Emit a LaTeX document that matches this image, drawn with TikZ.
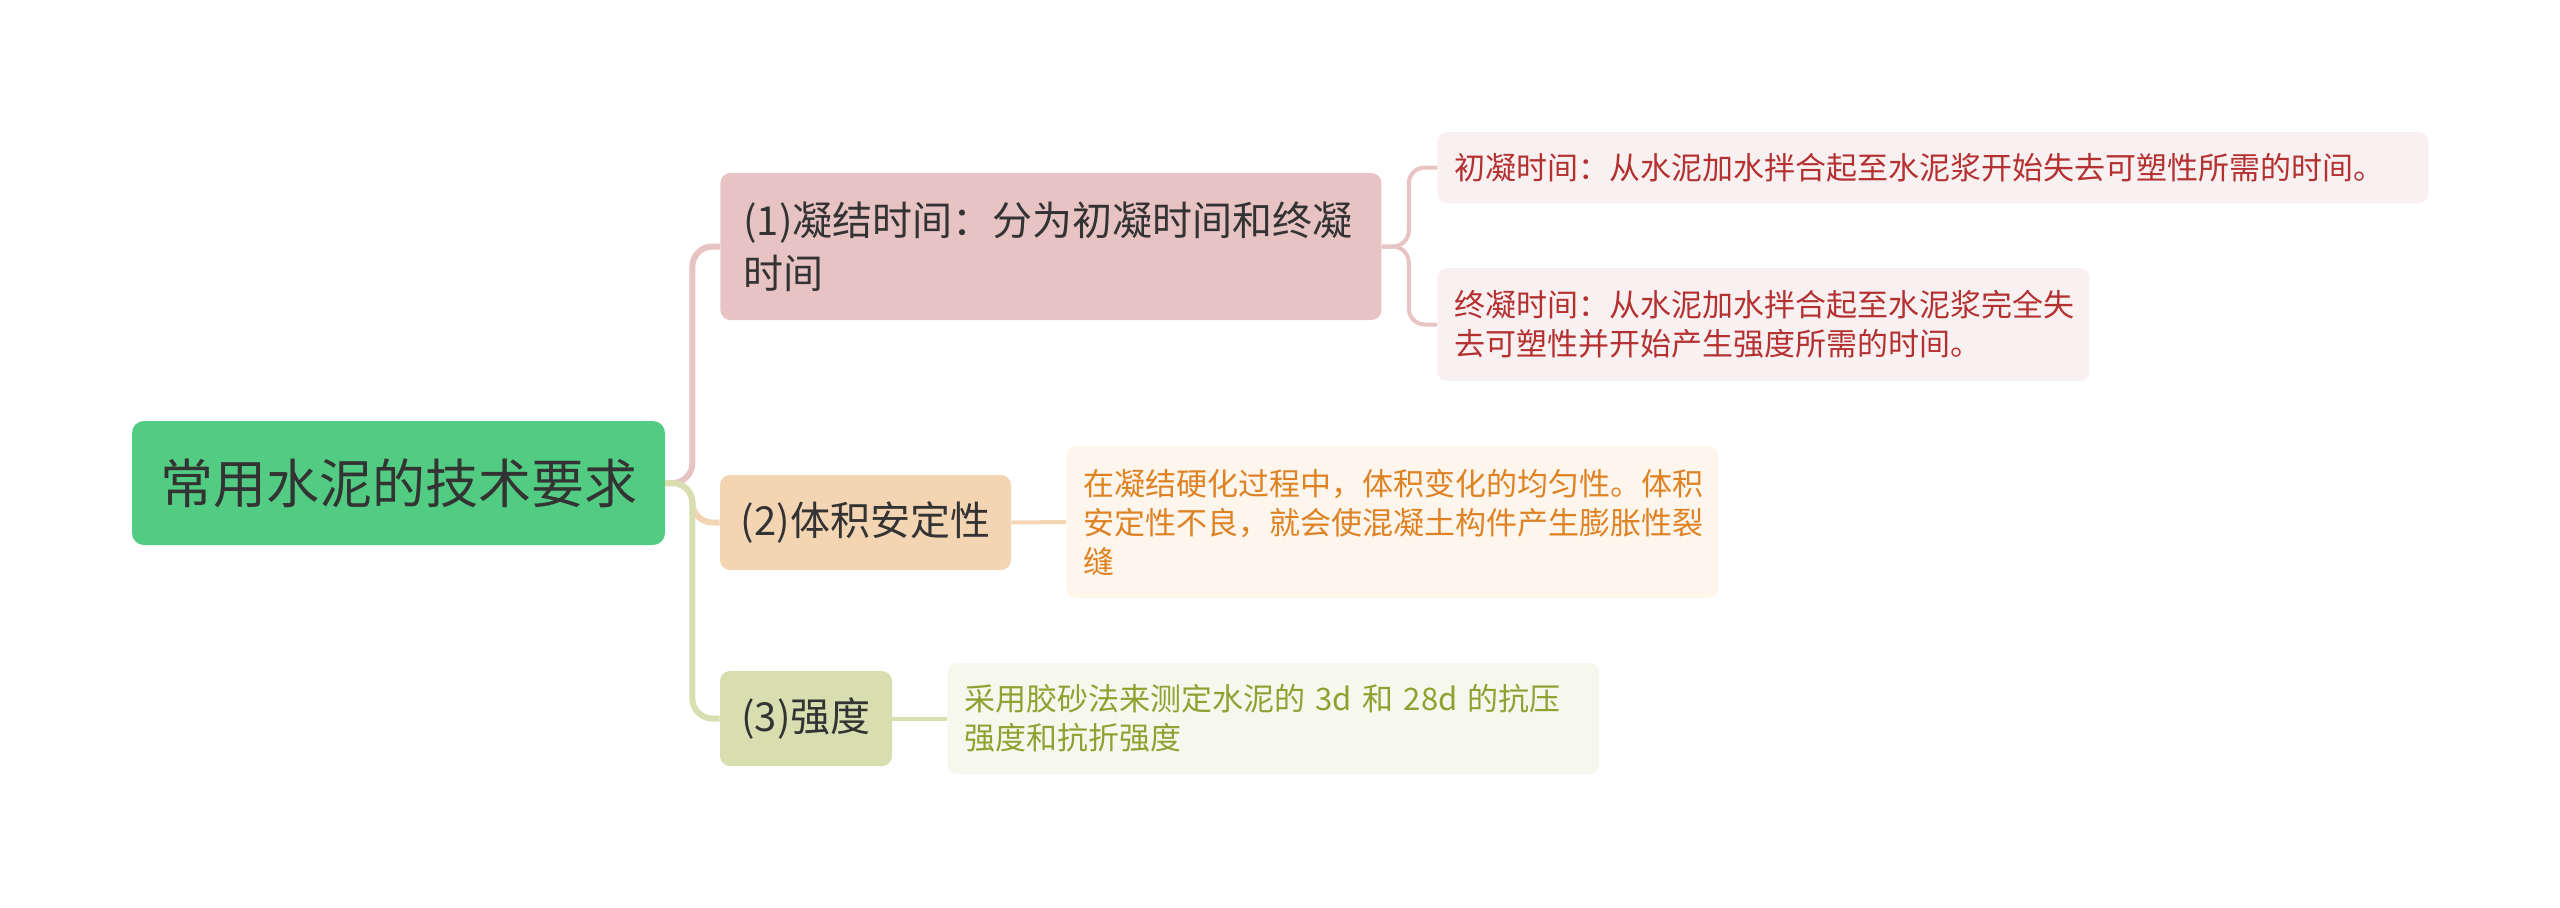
\documentclass[tikz,border=0pt]{standalone}
\usepackage{fontspec}
\setmainfont{Noto Sans CJK SC}
\definecolor{rootfill}{HTML}{52CC83}
\definecolor{textdark}{HTML}{333333}
\definecolor{pinkfill}{HTML}{E8C3C3}
\definecolor{orangefill}{HTML}{F3D5B4}
\definecolor{olivefill}{HTML}{D9DEB0}
\definecolor{pinkleaf}{HTML}{F9F1F1}
\definecolor{orangeleaf}{HTML}{FEF6EC}
\definecolor{oliveleaf}{HTML}{F6F8EE}
\definecolor{pinktext}{HTML}{B53131}
\definecolor{orangetext}{HTML}{DF8224}
\definecolor{olivetext}{HTML}{8EA232}

\begin{document}
\begin{tikzpicture}[x=0.5pt,y=-0.5pt,
  rootbox/.style={fill=rootfill,text=textdark,rounded corners=6pt,inner sep=0pt,
    font=\fontsize{26.5pt}{32pt}\selectfont},
  branch/.style={fill=#1,text=textdark,rounded corners=5pt,inner sep=0pt,
    font=\fontsize{20pt}{26.5pt}\selectfont},
  leaf/.style={fill=#1,rounded corners=5pt,inner xsep=8.5pt,inner ysep=0pt,
    anchor=west,align=left,font=\fontsize{15.5pt}{19.5pt}\selectfont},
  link/.style={draw=#1,line width=3pt,rounded corners=10pt},
  sublink/.style={draw=#1,line width=2pt,rounded corners=8pt}]
\useasboundingbox (0,0) rectangle (2560,907);

% root and main branches
\node[rootbox,minimum width=266.5pt,minimum height=62pt] (root) at (398.5,483) {常用水泥的技术要求};
\node[branch=pinkfill,anchor=west,align=left,inner xsep=11.5pt,text width=307.5pt,minimum height=73.5pt] (set) at (720,246.5)
  {(1)凝结时间：分为初凝时间和终凝\\时间};
\node[branch=orangefill,minimum width=145.5pt,minimum height=47.5pt] (vol) at (865.5,522.5) {(2)体积安定性};
\node[branch=olivefill,minimum width=86pt,minimum height=47.5pt] (str) at (806,718.5) {(3)强度};

% leaves
\node[leaf=pinkleaf,text=pinktext,text width=478.5pt,minimum height=35.5pt] (initial) at (1437,167.5)
  {初凝时间：从水泥加水拌合起至水泥浆开始失去可塑性所需的时间。};
\node[leaf=pinkleaf,text=pinktext,text width=309pt,minimum height=56.5pt] (final) at (1437,324.5)
  {终凝时间：从水泥加水拌合起至水泥浆完全失\\去可塑性并开始产生强度所需的时间。};
\node[leaf=orangeleaf,text=orangetext,text width=309pt,minimum height=76pt] (sound) at (1066,522)
  {在凝结硬化过程中，体积变化的均匀性。体积\\安定性不良，就会使混凝土构件产生膨胀性裂\\缝};
\node[leaf=oliveleaf,text=olivetext,text width=309pt,minimum height=55.5pt] (test) at (947,718.5)
  {采用胶砂法来测定水泥的 3d 和 28d 的抗压\\强度和抗折强度};

% connectors
\draw[link=pinkfill] (root.east) -- ++(27,0) |- (set.west);
\draw[link=orangefill] (root.east) -- ++(27,0) |- (vol.west);
\draw[link=olivefill] (root.east) -- ++(27,0) |- (str.west);
\draw[sublink=pinkfill] (set.east) -- ++(27,0) |- (initial.west);
\draw[sublink=pinkfill] (set.east) -- ++(27,0) |- (final.west);
\draw[sublink=orangefill] (vol.east) -- (sound.west);
\draw[sublink=olivefill] (str.east) -- (test.west);
\end{tikzpicture}
\end{document}
